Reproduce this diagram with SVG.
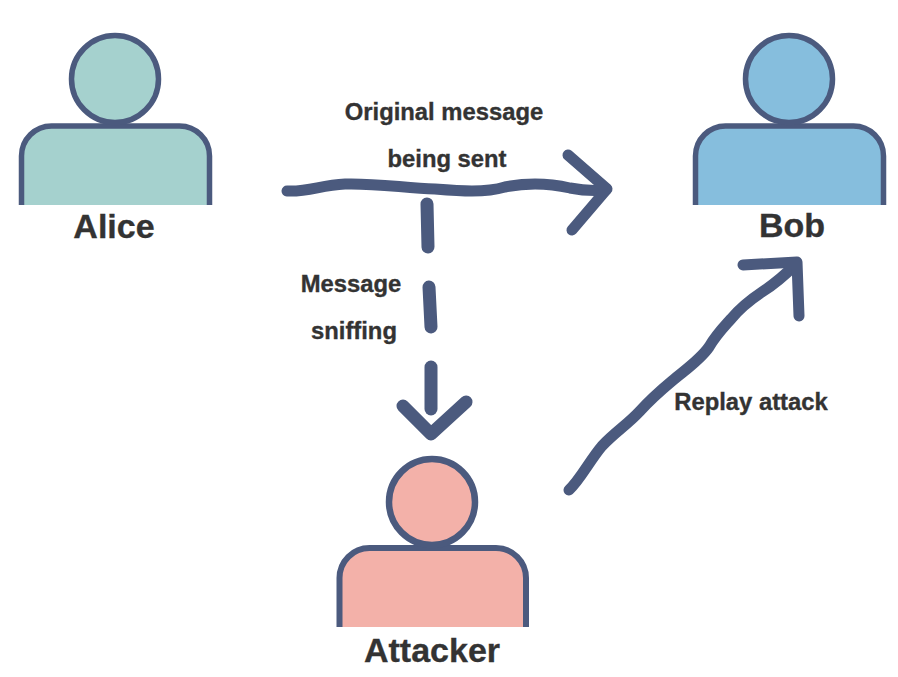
<svg xmlns="http://www.w3.org/2000/svg" width="898" height="677" viewBox="0 0 898 677">
<style>
.o{stroke:#4b5a7e;stroke-width:5.5;stroke-linejoin:round}
.a{fill:#a5d1ce}.b{fill:#86bedd}.c{fill:#f3b1a9}
.w{fill:none;stroke:#4b5a7e;stroke-width:11;stroke-linecap:round;stroke-linejoin:round}
.d{stroke-width:13}
text{font-family:"Liberation Sans",Arial,sans-serif;font-weight:700;fill:#333;stroke:#333;stroke-width:.35;text-anchor:middle}
.n{font-size:34px}.l{font-size:23.8px}
</style>
<rect width="898" height="677" fill="#fff"/>
<g id="alice">
<path class="o a" d="M21.5 205V156A30 30 0 0 1 51.5 126H179.5A30 30 0 0 1 209.5 156V205"/>
<circle class="o a" cx="115" cy="79" r="43.5"/>
<text class="n" x="114" y="238">Alice</text>
</g>
<g id="bob">
<path class="o b" d="M695.5 205V156A30 30 0 0 1 725.5 126H853.5A30 30 0 0 1 883.5 156V205"/>
<circle class="o b" cx="789" cy="79" r="43.5"/>
<text class="n" x="792" y="237">Bob</text>
</g>
<g id="attacker">
<path class="o c" d="M339.5 627V578A30 30 0 0 1 369.5 548H496A30 30 0 0 1 526 578V627" style="stroke-width:6"/>
<circle class="o c" cx="432" cy="502" r="43" style="stroke-width:6.5"/>
<text class="n" x="432" y="662">Attacker</text>
</g>
<g id="connectors">
<path class="w" d="M287 191C310 192 320 185 345 184C375 183 405 188 435 189C460 191 485 193 505 187C525 183 548 183 570 188C585 191 595 191 606 190"/>
<path class="w" d="M568 155L607 189L572 230"/>
<path class="w d" d="M427 204L428 247"/>
<path class="w d" d="M429 287L431 327"/>
<path class="w d" d="M431 367V409"/>
<path class="w d" d="M403 406L431 434L466 402"/>
<path class="w" d="M569 490C580 480 590 460 602 446C615 432 627 425 640 411C650 400 660 391 672 381C685 370 700 360 709 347C716 335 722 329 731 319C740 308 750 300 762 292C773 285 785 275 796 264"/>
<path class="w" d="M743 265L797 262L799 316"/>
</g>
<g id="labels">
<text class="l" x="444" y="120">Original message</text>
<text class="l" x="447" y="167">being sent</text>
<text class="l" x="351" y="292">Message</text>
<text class="l" x="354" y="339">sniffing</text>
<text class="l" x="751" y="410">Replay attack</text>
</g>
</svg>
